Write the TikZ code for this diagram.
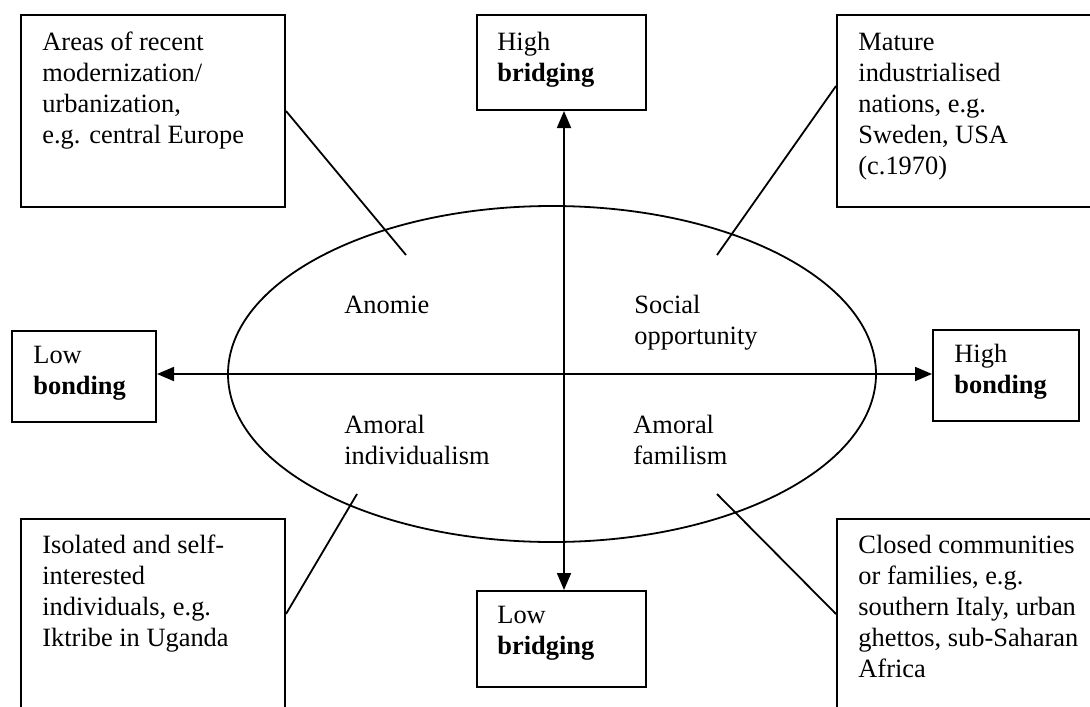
\documentclass[tikz,border=0pt]{standalone}
\usepackage{fontspec}
\setmainfont{Liberation Serif}
\usetikzlibrary{shapes.geometric,arrows.meta,fit,calc}
\begin{document}
\begin{tikzpicture}[x=0.5pt,y=-0.5pt,
  box/.style={draw, line width=1pt, inner sep=0pt, rectangle},
  txt/.style={anchor=north west, inner sep=0pt, align=left, font=\fontsize{13.2}{15.5}\selectfont},
  conn/.style={line width=0.9pt},
  arr/.style={line width=0.9pt, {Triangle[length=8.5pt,width=7pt]}-{Triangle[length=8.5pt,width=7pt]}}]
\clip (0,0) rectangle (1090,706);
\fill[white] (0,0) rectangle (1090,706);

% ellipse
\node[draw, ellipse, line width=0.9pt, inner sep=0pt, minimum width=324pt, minimum height=168pt] (ell) at (552,374) {};

% boxes
\node[box, fit={(21,15) (285,207)}] (tl) {};
\node[box, fit={(837,15) (1096,207)}] (tr) {};
\node[box, fit={(21,519) (285,720)}] (bl) {};
\node[box, fit={(837,519) (1096,720)}] (br) {};
\node[box, fit={(477,15) (646,110)}] (hb) {};
\node[box, fit={(477,591) (646,687)}] (lb) {};
\node[box, fit={(12,331) (156,422)}] (lbo) {};
\node[box, fit={(933,330) (1079,421)}] (hbo) {};

% box texts
\node[txt] (tlt) at (42,28.3) {\strut Areas of recent\\modernization/\\urbanization,\\e.g. central Europe};
\node[txt] (trt) at (858,28.3) {\strut Mature\\industrialised\\nations, e.g.\\Sweden, USA\\(c.1970)};
\node[txt] (blt) at (42,531.3) {\strut Isolated and self-\\interested\\individuals, e.g.\\Iktribe in Uganda};
\node[txt] (brt) at (858,531.3) {\strut Closed communities\\or families, e.g.\\southern Italy, urban\\ghettos, sub-Saharan\\Africa};
\node[txt] (hbt) at (497,28.3) {\strut High\\\textbf{bridging}};
\node[txt] (lbt) at (497,601.3) {\strut Low\\\textbf{bridging}};
\node[txt] (lbot) at (33,341.3) {\strut Low\\\textbf{bonding}};
\node[txt] (hbot) at (954,340.3) {\strut High\\\textbf{bonding}};

% ellipse texts
\node[txt] (q1) at (344,291.3) {\strut Anomie};
\node[txt] (q2) at (634,291.3) {\strut Social\\opportunity};
\node[txt] (q3) at (344,411.3) {\strut Amoral\\individualism};
\node[txt] (q4) at (633,411.3) {\strut Amoral\\familism};

% axes
\coordinate (c) at (564,374);
\draw[arr] (c -| lbo.east) -- (c -| hbo.west);
\draw[arr] (c |- hb.south) -- (c |- lb.north);

% connectors
\coordinate (p1) at (406,255);
\coordinate (p2) at (717,255);
\coordinate (p3) at (357,494);
\coordinate (p4) at (717,494);
\draw[conn] (tl.east) -- (p1);
\draw[conn] ($(tr.north west)+(0,72)$) -- (p2);
\draw[conn] ($(bl.north east)+(0,96)$) -- (p3);
\draw[conn] ($(br.north west)+(0,96)$) -- (p4);
\end{tikzpicture}
\end{document}
